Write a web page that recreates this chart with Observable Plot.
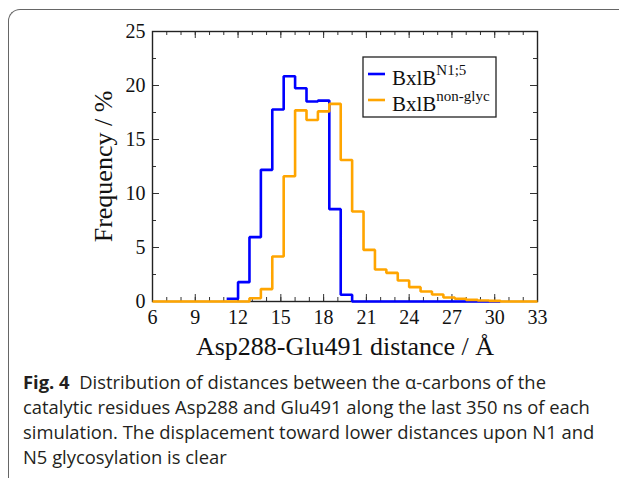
<!DOCTYPE html>
<html>
<head>
<meta charset="utf-8">
<script src="https://cdn.jsdelivr.net/npm/d3@7"></script>
<script src="https://cdn.jsdelivr.net/npm/@observablehq/plot@0.6"></script>
<style>
  html, body { margin: 0; padding: 0; background: #fff; }
  #wrap { position: relative; width: 619px; height: 478px; overflow: hidden; background: #fff; }
  #panel { position: absolute; left: 8px; top: 9px; width: 700px; height: 600px;
           border-top: 1.5px solid #666; border-left: 1.5px solid #666; border-top-left-radius: 12px; }
  #chart { position: absolute; left: 0; top: 0; }
  #caption { position: absolute; left: 23px; top: 369px; width: 596px;
             font-family: "Open Sans", sans-serif; font-size: 18.4px; line-height: 25px; color: #231f20; }
  #caption div { white-space: nowrap; }
  #caption b { font-weight: 700; }
</style>
</head>
<body>
<div id="wrap">
  <div id="panel"></div>
  <div id="chart"></div>
  <div id="caption"></div>
</div>
<script>
// ---- data ----
const binWidth = 0.8;
const blueStart = 11.2;
const blueValues = [0.25, 1.79, 5.96, 12.19, 17.78, 20.86, 19.75, 18.52, 18.6, 8.55, 0.62,
                    0, 0, 0, 0, 0, 0, 0, 0, 0, 0, 0, 0, 0];
const orangeStart = 12.0;
const orangeValues = [0, 0.3, 1.15, 4.17, 11.6, 17.7, 16.8, 17.6, 18.3, 13.1, 8.33, 4.78,
                      2.96, 2.65, 1.94, 1.33, 0.93, 0.65, 0.37, 0.25, 0.15, 0.09, 0.06];
const orangeRange = [6, 33];
const seriesNames = ["N1;5", "non-glyc"];
const seriesColors = ["#0000ff", "#ffa500"];
const xDomain = [6, 33];
const yDomain = [0, 25];
const xMajor = [6, 9, 12, 15, 18, 21, 24, 27, 30, 33];
const xMinor = [6,7,8,9,10,11,12,13,14,15,16,17,18,19,20,21,22,23,24,25,26,27,28,29,30,31,32,33];
const yMajor = [0, 5, 10, 15, 20, 25];
const yMinor = [0, 2.5, 5, 7.5, 10, 12.5, 15, 17.5, 20, 22.5, 25];
const xTitle = "Asp288-Glu491 distance / Å";
const yTitle = "Frequency / %";
const captionLines = [
  ["Fig. 4", "  Distribution of distances between the α-carbons of the"],
  [null, "catalytic residues Asp288 and Glu491 along the last 350 ns of each"],
  [null, "simulation. The displacement toward lower distances upon N1 and"],
  [null, "N5 glycosylation is clear"]
];

// ---- build step series ----
function steps(start, values, series) {
  const pts = values.map((v, i) => ({x: start + i * binWidth, y: v, s: series}));
  pts.push({x: start + values.length * binWidth, y: values[values.length - 1], s: series});
  return pts;
}
const blue = steps(blueStart, blueValues, 0);
const orangeCore = steps(orangeStart, orangeValues, 1);
const orange = [{x: orangeRange[0], y: 0, s: 1}, ...orangeCore.slice(0, -1),
                {x: orangeCore[orangeCore.length - 1].x, y: 0, s: 1}, {x: orangeRange[1], y: 0, s: 1}];

const W = 619, H = 360, mL = 152, mR = 82, mT = 31, mB = 59;
const frameW = W - mL - mR, frameH = H - mT - mB;
const majLen = 7, minLen = 4;

const plot = Plot.plot({
  width: W, height: H,
  marginLeft: mL, marginRight: mR, marginTop: mT, marginBottom: mB,
  x: {domain: xDomain},
  y: {domain: yDomain},
  style: {fontFamily: "'Liberation Serif', 'Times New Roman', serif", color: "#111", background: "transparent", overflow: "visible"},
  marks: [
    // inward ticks, all four sides
    Plot.tickX(xMinor, {x: d => d, insetTop: frameH - minLen, stroke: "#333", strokeWidth: 1}),
    Plot.tickX(xMinor, {x: d => d, insetBottom: frameH - minLen, stroke: "#333", strokeWidth: 1}),
    Plot.tickX(xMajor, {x: d => d, insetTop: frameH - majLen, stroke: "#333", strokeWidth: 1}),
    Plot.tickX(xMajor, {x: d => d, insetBottom: frameH - majLen, stroke: "#333", strokeWidth: 1}),
    Plot.tickY(yMinor, {y: d => d, insetRight: frameW - minLen, stroke: "#333", strokeWidth: 1}),
    Plot.tickY(yMinor, {y: d => d, insetLeft: frameW - minLen, stroke: "#333", strokeWidth: 1}),
    Plot.tickY(yMajor, {y: d => d, insetRight: frameW - majLen, stroke: "#333", strokeWidth: 1}),
    Plot.tickY(yMajor, {y: d => d, insetLeft: frameW - majLen, stroke: "#333", strokeWidth: 1}),
    Plot.axisX({ticks: xMajor, tickSize: 0, tickPadding: 8, fontSize: 20, label: null, tickFormat: d => String(d)}),
    Plot.axisY({ticks: yMajor, tickSize: 0, tickPadding: 7, fontSize: 20, label: null, tickFormat: d => String(d)}),
    Plot.frame({stroke: "#222", strokeWidth: 1.4}),
    Plot.line(blue, {x: "x", y: "y", curve: "step-after", stroke: seriesColors[0], strokeWidth: 2.6, strokeLinejoin: "miter", strokeLinecap: "butt"}),
    Plot.line(orange, {x: "x", y: "y", curve: "step-after", stroke: seriesColors[1], strokeWidth: 2.6, strokeLinejoin: "miter", strokeLinecap: "butt"}),
    Plot.text([xTitle], {text: d => d, frameAnchor: "bottom", textAnchor: "middle", lineAnchor: "middle", dy: 45, fontSize: 26, fill: "#111"}),
    Plot.text([yTitle], {text: d => d, frameAnchor: "left", textAnchor: "middle", lineAnchor: "middle", rotate: -90, dx: -49, fontSize: 26, fill: "#111"})
  ]
});
document.getElementById("chart").appendChild(plot);

// ---- legend ----
const svg = d3.select(plot);
const lg = svg.append("g").attr("transform", "translate(363,57)");
lg.append("rect").attr("width", 133).attr("height", 60).attr("fill", "#fff").attr("stroke", "#222").attr("stroke-width", 1.3);
seriesNames.forEach((name, i) => {
  const yy = 17 + i * 26;
  lg.append("line").attr("x1", 5).attr("x2", 22).attr("y1", yy).attr("y2", yy)
    .attr("stroke", seriesColors[i]).attr("stroke-width", 2.6);
  const t = lg.append("text").attr("x", 29).attr("y", yy + 11).attr("text-anchor", "start")
    .attr("font-family", "'Liberation Serif', serif").attr("font-size", 21).attr("fill", "#111");
  t.append("tspan").text("BxlB");
  t.append("tspan").attr("dy", -10).attr("font-size", 15).text(name);
});

// ---- caption ----
const cap = d3.select("#caption");
captionLines.forEach(([bold, rest]) => {
  const div = cap.append("div");
  if (bold) div.append("b").text(bold);
  div.append("span").style("white-space", "pre").text(rest);
});
</script>
</body>
</html>
